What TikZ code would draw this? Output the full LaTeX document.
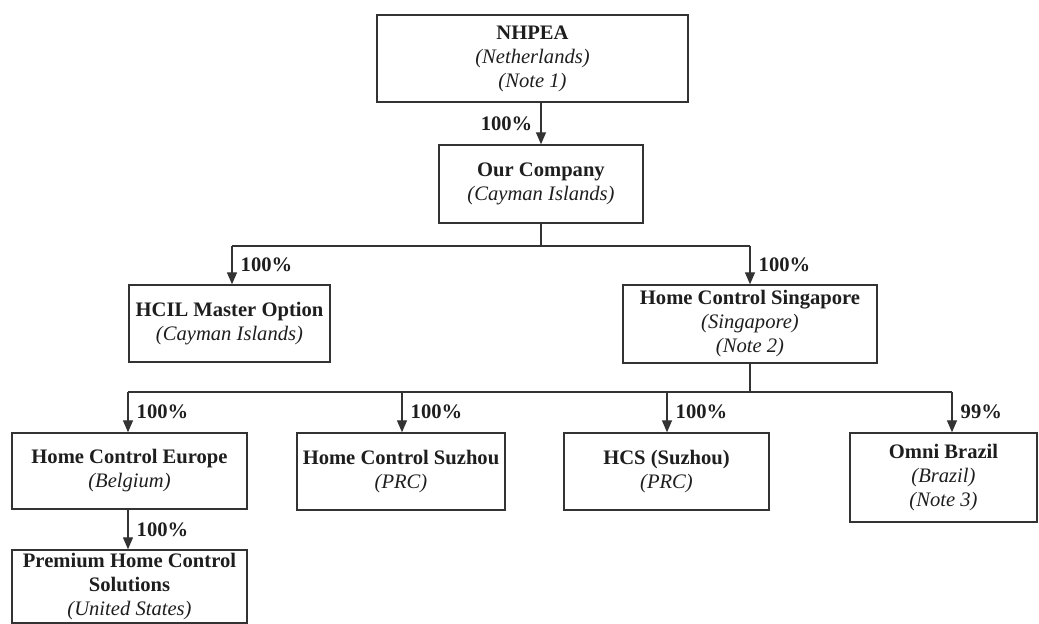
\documentclass[tikz,border=0pt]{standalone}
\usepackage{fontspec}
\setmainfont{Liberation Serif}
\usetikzlibrary{arrows.meta,calc}
\definecolor{orgline}{RGB}{51,51,51}
\definecolor{orgtext}{RGB}{30,30,30}

\begin{document}
\begin{tikzpicture}[x=0.5pt,y=-0.5pt,
    box/.style={draw=orgline, line width=0.7pt, align=center, inner sep=0pt,
        font=\fontsize{10.3}{12}\selectfont, text=orgtext},
    link/.style={draw=orgline, line width=0.7pt},
    arr/.style={link, -{Triangle[length=6pt,width=5pt]}},
    pct/.style={font=\fontsize{10.3}{12}\selectfont\bfseries, text=orgtext, inner sep=4pt}]
    \useasboundingbox (0,0) rectangle (1039,624);

    % Top of the chart
    \node[box, minimum width=155.5pt, minimum height=43.5pt] (nhpea) at (532.5,58.5)
        {\textbf{NHPEA}\\\textit{(Netherlands)}\\\textit{(Note 1)}};
    \node[box, minimum width=102pt, minimum height=39pt] (ourco) at (541,184)
        {\textbf{Our Company}\\\textit{(Cayman Islands)}};

    % Second level
    \node[box, minimum width=100.5pt, minimum height=38.5pt] (hcil) at (229.5,323.5)
        {\textbf{HCIL Master Option}\\\textit{(Cayman Islands)}};
    \node[box, minimum width=127pt, minimum height=39pt] (hcs) at (750,324)
        {\textbf{Home Control Singapore}\\\textit{(Singapore)}\\\textit{(Note 2)}};

    % Third level
    \node[box, minimum width=117.5pt, minimum height=38pt] (hce) at (129.5,471)
        {\textbf{Home Control Europe}\\\textit{(Belgium)}};
    \node[box, minimum width=104pt, minimum height=38.5pt] (hcsz) at (401,471.5)
        {\textbf{Home Control Suzhou}\\\textit{(PRC)}};
    \node[box, minimum width=102.5pt, minimum height=38.5pt] (hcssz) at (666.5,471.5)
        {\textbf{HCS (Suzhou)}\\\textit{(PRC)}};
    \node[box, minimum width=93.5pt, minimum height=44.5pt] (omni) at (943.5,477.5)
        {\textbf{Omni Brazil}\\\textit{(Brazil)}\\\textit{(Note 3)}};
    \node[box, minimum width=117.5pt, minimum height=36.5pt] (phcs) at (129.5,586.5)
        {\textbf{Premium Home Control}\\\textbf{Solutions}\\\textit{(United States)}};

    % Bus points
    \coordinate (bus1) at (541,246);
    \coordinate (hcilin) at (232,246);
    \coordinate (hcsin) at (750,246);
    \coordinate (bus2) at (750,392);
    \coordinate (hcein) at (128,392);
    \coordinate (hcszin) at (402,392);
    \coordinate (hcsszin) at (667,392);
    \coordinate (omniin) at (952,392);

    % Connections
    \draw[arr] (ourco.north |- nhpea.south) -- node[pct, left] {100\%} (ourco.north);
    \draw[link] (ourco.south) -- (bus1);
    \draw[link] (hcilin) -- (hcsin);
    \draw[arr] (hcilin) -- node[pct, right] {100\%} (hcilin |- hcil.north);
    \draw[arr] (hcsin) -- node[pct, right] {100\%} (hcs.north);

    \draw[link] (hcs.south) -- (bus2);
    \draw[link] (hcein) -- (omniin);
    \draw[arr] (hcein) -- node[pct, right] {100\%} (hcein |- hce.north);
    \draw[arr] (hcszin) -- node[pct, right] {100\%} (hcszin |- hcsz.north);
    \draw[arr] (hcsszin) -- node[pct, right] {100\%} (hcsszin |- hcssz.north);
    \draw[arr] (omniin) -- node[pct, right] {99\%} (omniin |- omni.north);
    \draw[arr] (hcein |- hce.south) -- node[pct, right] {100\%} (hcein |- phcs.north);
\end{tikzpicture}
\end{document}
